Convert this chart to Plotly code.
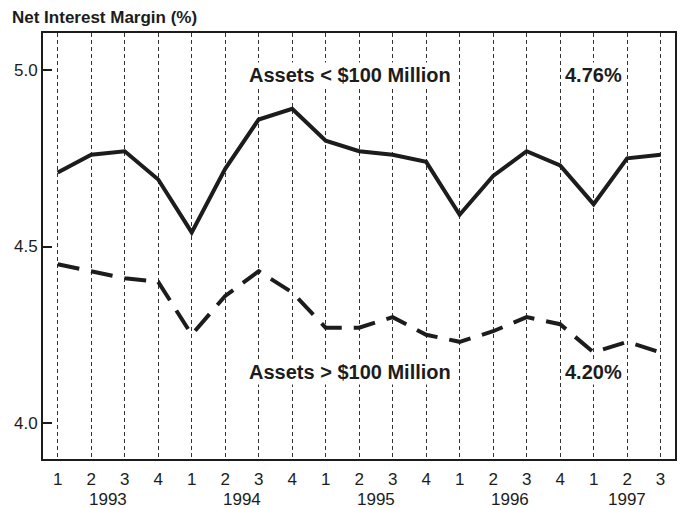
import plotly.graph_objects as go

quarters = ["1", "2", "3", "4", "1", "2", "3", "4", "1", "2", "3", "4",
            "1", "2", "3", "4", "1", "2", "3"]
years = ["1993", "1994", "1995", "1996", "1997"]
year_pos = [1.5, 5.5, 9.5, 13.5, 17]
small_banks = [4.71, 4.76, 4.77, 4.69, 4.54, 4.72, 4.86, 4.89, 4.80, 4.77,
               4.76, 4.74, 4.59, 4.70, 4.77, 4.73, 4.62, 4.75, 4.76]
large_banks = [4.45, 4.43, 4.41, 4.40, 4.25, 4.36, 4.43, 4.37, 4.27, 4.27,
               4.30, 4.25, 4.23, 4.26, 4.30, 4.28, 4.20, 4.23, 4.20]
y_ticks = [4.0, 4.5, 5.0]
y_ticktext = ["4.0", "4.5", "5.0"]

x = list(range(len(quarters)))
FONT = "Liberation Sans, Arial, Helvetica, sans-serif"
INK = "#1c1c1c"

fig = go.Figure()
fig.add_trace(go.Scatter(x=x, y=small_banks, mode="lines",
                         line=dict(color=INK, width=4), showlegend=False))
fig.add_trace(go.Scatter(x=x, y=large_banks, mode="lines",
                         line=dict(color=INK, width=4, dash="22px,12px"),
                         showlegend=False))

annots = [
    dict(x=8.72, y=4.986, text="<b>Assets < $100 Million</b>"),
    dict(x=16.0, y=4.986, text="<b>4.76%</b>"),
    dict(x=8.72, y=4.145, text="<b>Assets > $100 Million</b>"),
    dict(x=16.0, y=4.145, text="<b>4.20%</b>"),
]
for a in annots:
    fig.add_annotation(x=a["x"], y=a["y"], xref="x", yref="y", text=a["text"],
                       showarrow=False, bgcolor="white", borderpad=1,
                       font=dict(family=FONT, size=20, color=INK),
                       xanchor="center", yanchor="middle")

for yr, p in zip(years, year_pos):
    fig.add_annotation(x=p, y=0, xref="x", yref="paper", text=yr,
                       showarrow=False, yanchor="middle", yshift=-40,
                       font=dict(family=FONT, size=17, color=INK))

fig.update_layout(
    width=682, height=508,
    margin=dict(l=43, r=5, t=33, b=49),
    paper_bgcolor="white", plot_bgcolor="white",
    font=dict(family=FONT, size=17, color=INK),
    title=dict(text="<b>Net Interest Margin (%)</b>", x=12/682, xanchor="left",
               xref="container", yref="container", y=1 - 17/508,
               yanchor="middle", font=dict(family=FONT, size=17, color=INK)),
)
fig.update_xaxes(range=[-0.44, 18.43], tickvals=x, ticktext=quarters,
                 ticks="", showgrid=True, gridcolor="#333", gridwidth=1,
                 griddash="4px,3px", showline=True, linecolor=INK,
                 linewidth=2, mirror=True, zeroline=False,
                 ticklabelstandoff=4,
                 tickfont=dict(family=FONT, size=17, color=INK))
fig.update_yaxes(range=[3.898, 5.105], tickvals=y_ticks, ticktext=y_ticktext,
                 ticks="inside", ticklen=9, tickwidth=1.5, tickcolor=INK,
                 showgrid=False, showline=True, linecolor=INK, linewidth=2,
                 mirror=True, zeroline=False,
                 tickfont=dict(family=FONT, size=17, color=INK))

fig.write_html("out.html", config={"displayModeBar": False},
               post_script="document.body.style.margin='0px';")
